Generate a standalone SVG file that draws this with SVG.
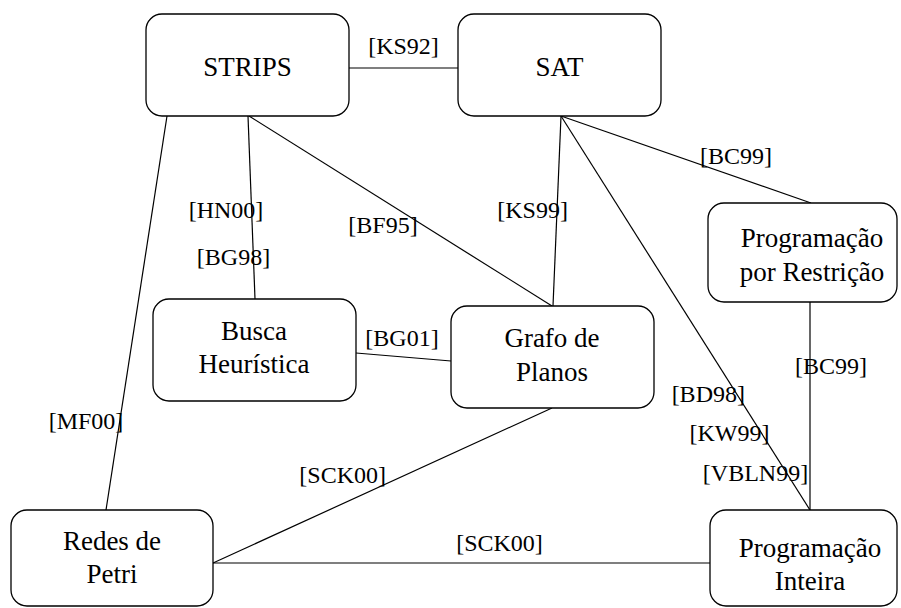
<svg xmlns="http://www.w3.org/2000/svg" width="901" height="608" viewBox="0 0 901 608">
<style>
.n rect{fill:#fff;stroke:#000;stroke-width:1.3}
.n text{font-size:27px;text-anchor:middle;fill:#000}
.e line{stroke:#000;stroke-width:1.2}
.e text{font-size:24px;text-anchor:middle;fill:#000}
</style>
<rect width="901" height="608" fill="#fff"/>
<g font-family="Liberation Serif, Times New Roman, DejaVu Serif, serif">
<g class="e" id="connectors">
<line x1="349" y1="68" x2="458" y2="68"/>
<line x1="167" y1="116" x2="106" y2="510"/>
<line x1="248" y1="116" x2="255" y2="299"/>
<line x1="249" y1="116" x2="552" y2="306"/>
<line x1="561" y1="116" x2="553" y2="306"/>
<line x1="561" y1="116" x2="811" y2="203"/>
<line x1="561" y1="116" x2="810" y2="510"/>
<line x1="810" y1="302" x2="810" y2="510"/>
<line x1="356" y1="353" x2="451" y2="361"/>
<line x1="552" y1="408" x2="213" y2="563"/>
<line x1="213" y1="563" x2="710" y2="563"/>
<text x="403.5" y="54">[KS92]</text>
<text x="86" y="429">[MF00]</text>
<text x="226" y="218">[HN00]</text>
<text x="233.5" y="265">[BG98]</text>
<text x="383" y="233">[BF95]</text>
<text x="532.6" y="218">[KS99]</text>
<text x="736" y="164">[BC99]</text>
<text x="708.3" y="402">[BD98]</text>
<text x="729.5" y="441">[KW99]</text>
<text x="755.5" y="481">[VBLN99]</text>
<text x="831" y="373.5">[BC99]</text>
<text x="402" y="346">[BG01]</text>
<text x="342.7" y="483">[SCK00]</text>
<text x="499.5" y="551">[SCK00]</text>
</g>
<g class="n" id="strips"><rect x="146" y="14" width="203" height="102" rx="16"/><text x="247.5" y="76">STRIPS</text></g>
<g class="n" id="sat"><rect x="458" y="14" width="203" height="102" rx="16"/><text x="559.5" y="76">SAT</text></g>
<g class="n" id="restricao"><rect x="708" y="203" width="189" height="99" rx="16"/><text x="812" y="247">Programação</text><text x="812" y="281">por Restrição</text></g>
<g class="n" id="busca"><rect x="153" y="299" width="203" height="102" rx="16"/><text x="254" y="340">Busca</text><text x="254" y="373">Heurística</text></g>
<g class="n" id="grafo"><rect x="451" y="306" width="203" height="102" rx="16"/><text x="552" y="347">Grafo de</text><text x="552" y="381">Planos</text></g>
<g class="n" id="redes"><rect x="11" y="510" width="202" height="96" rx="16"/><text x="112" y="550">Redes de</text><text x="112" y="583">Petri</text></g>
<g class="n" id="inteira"><rect x="710" y="510" width="187" height="96" rx="16"/><text x="810" y="557">Programação</text><text x="810" y="590">Inteira</text></g>
</g>
</svg>
